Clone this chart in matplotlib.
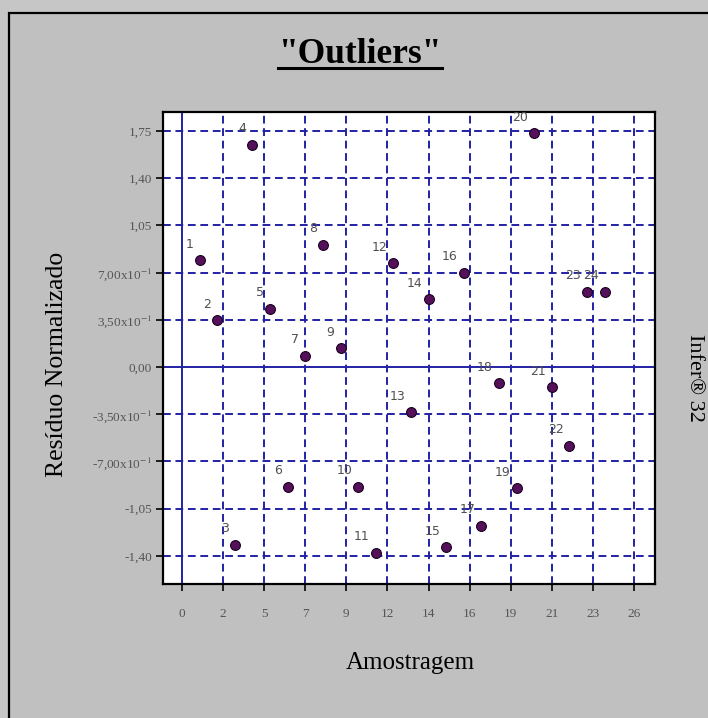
import matplotlib
matplotlib.use('Agg')
import matplotlib.pyplot as plt
from matplotlib.lines import Line2D
from matplotlib.patches import Rectangle

plt.rcParams['mathtext.fontset'] = 'stix'

amostra = list(range(1, 25))
residuo = [0.79, 0.345, -1.32, 1.645, 0.43, -0.888, 0.084, 0.905, 0.139, -0.888,
           -1.377, 0.769, -0.336, 0.502, -1.337, 0.70, -1.179, -0.121, -0.90, 1.733,
           -0.151, -0.584, 0.559, 0.559]
x_ticks = [k * 7 / 3 for k in range(12)]
x_labels = ['0', '2', '5', '7', '9', '12', '14', '16', '19', '21', '23', '26']
y_ticks = [-1.40, -1.05, -0.70, -0.35, 0.0, 0.35, 0.70, 1.05, 1.40, 1.75]
y_labels = ['-1,40', '-1,05', r'-7,00x10$^{-1}$', r'-3,50x10$^{-1}$', '0,00',
            r'3,50x10$^{-1}$', r'7,00x10$^{-1}$', '1,05', '1,40', '1,75']

serif = 'Liberation Serif'
blue = '#2222a4'
W, H = 708, 718

fig = plt.figure(figsize=(W / 100, H / 100), dpi=100)
fig.patch.set_facecolor('#c6c6c6')
fig.add_artist(Rectangle((9 / W, -0.1), 1.2, (H - 13) / H + 0.1, transform=fig.transFigure,
                         facecolor='#c0c0c0', edgecolor='black', linewidth=1.6, zorder=-5))

ax = fig.add_axes([163 / W, (H - 584) / H, (655 - 163) / W, (584 - 112) / H])
ax.set_facecolor('white')
ax.set_xlim(-1.08, 26.86)
ax.set_ylim(-1.609, 1.891)

for xt in x_ticks[1:]:
    ax.axvline(xt, color=blue, lw=1.4, ls=(0, (4, 2.4)), zorder=1)
for yt in y_ticks:
    if yt != 0:
        ax.axhline(yt, color=blue, lw=1.4, ls=(0, (4, 2.4)), zorder=1)
ax.axvline(0, color=blue, lw=1.4, zorder=1)
ax.axhline(0, color=blue, lw=1.4, zorder=1)

ax.scatter(amostra, residuo, s=50, color='#55105a', edgecolors='#1a0020', linewidths=0.8, zorder=3)
for n, r in zip(amostra, residuo):
    ax.annotate(str(n), (n, r), xytext=(-4.3, 7), textcoords='offset points',
                ha='right', va='bottom', fontsize=9, color='#505050', family='DejaVu Sans', zorder=4)

ax.set_xticks(x_ticks)
ax.set_xticklabels(x_labels, family=serif, fontsize=9.5, color='#555555')
ax.set_yticks(y_ticks)
ax.set_yticklabels(y_labels, family=serif, fontsize=9.5, color='#555555')
ax.tick_params(direction='out', length=5, width=1.2, color='black', pad=12)
ax.tick_params(axis='y', pad=3)
for s in ax.spines.values():
    s.set_linewidth(1.6)

fig.text(410 / W, (H - 663) / H, 'Amostragem', family=serif, fontsize=18, ha='center', va='center')
fig.text(57 / W, (H - 364) / H, 'Resíduo Normalizado', family=serif, fontsize=18.5,
         rotation=90, ha='center', va='center')
fig.text(695 / W, (H - 378) / H, 'Infer® 32', family=serif, fontsize=16,
         rotation=270, ha='center', va='center')

title = fig.text(360 / W, (H - 63) / H, '"Outliers"', family=serif, fontsize=25.5,
                 fontweight='bold', ha='center', va='baseline')
fig.canvas.draw()
bb = title.get_window_extent().transformed(fig.transFigure.inverted())
fig.add_artist(Line2D([bb.x0, bb.x1], [(H - 68) / H] * 2, color='black', lw=2.2,
                      transform=fig.transFigure))

fig.savefig('out.png', dpi=100, facecolor=fig.get_facecolor())
